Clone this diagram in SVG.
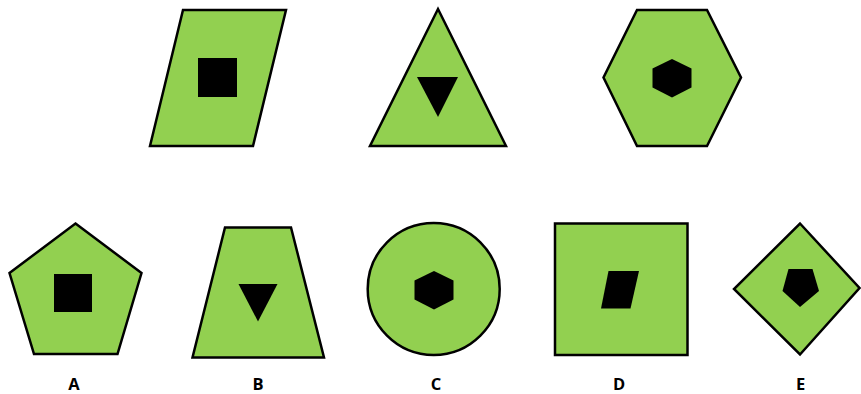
<svg xmlns="http://www.w3.org/2000/svg" width="861" height="394" viewBox="0 0 861 394">
<style>
.s{fill:#92D050;stroke:#000;stroke-width:2.5;stroke-linejoin:miter}
.i{fill:#000;stroke:none}
.l{font-family:"Open Sans","Liberation Sans",sans-serif;font-weight:bold;font-size:16.5px;fill:#000;text-anchor:middle}
</style>
<rect width="861" height="394" fill="#fff"/>
<g id="q1">
<polygon class="s" points="183,10 286,10 253,146 150,146"/>
<rect class="i" x="198" y="58" width="39" height="39"/>
</g>
<g id="q2">
<polygon class="s" points="438,9 506,146 370,146"/>
<polygon class="i" points="417,77 458,77 438,117"/>
</g>
<g id="q3">
<polygon class="s" points="637,10 707,10 741,77.5 707,146 637,146 603.5,77.5"/>
<polygon class="i" points="672,59 691.5,68.5 691.5,87.5 672,97.5 652.5,87.5 652.5,68.5"/>
</g>
<g id="A">
<polygon class="s" points="75.5,223.5 141.5,273 117.5,354 34,354 9.5,273"/>
<rect class="i" x="54" y="274" width="38" height="38"/>
<text class="l" x="74" y="390">A</text>
</g>
<g id="B">
<polygon class="s" points="225,227.5 291,227.5 324,357.5 192.5,357.5"/>
<polygon class="i" points="238.5,284 277.5,284 258,321.5"/>
<text class="l" x="258" y="390">B</text>
</g>
<g id="C">
<circle class="s" cx="433.7" cy="289" r="66"/>
<polygon class="i" points="434,271 453.5,280.5 453.5,299.5 434,309.5 414.5,299.5 414.5,280.5"/>
<text class="l" x="436" y="390">C</text>
</g>
<g id="D">
<rect class="s" x="555" y="223.5" width="132.5" height="131.5"/>
<polygon class="i" points="608.5,271 639,271 630.5,308.5 601,308.5"/>
<text class="l" x="619" y="390">D</text>
</g>
<g id="E">
<polygon class="s" points="800,223.5 859.5,288 800,354.5 734,289"/>
<polygon class="i" points="788.5,269 812.5,269 819,291 800,307 782.5,291"/>
<text class="l" x="800.5" y="390">E</text>
</g>
</svg>
